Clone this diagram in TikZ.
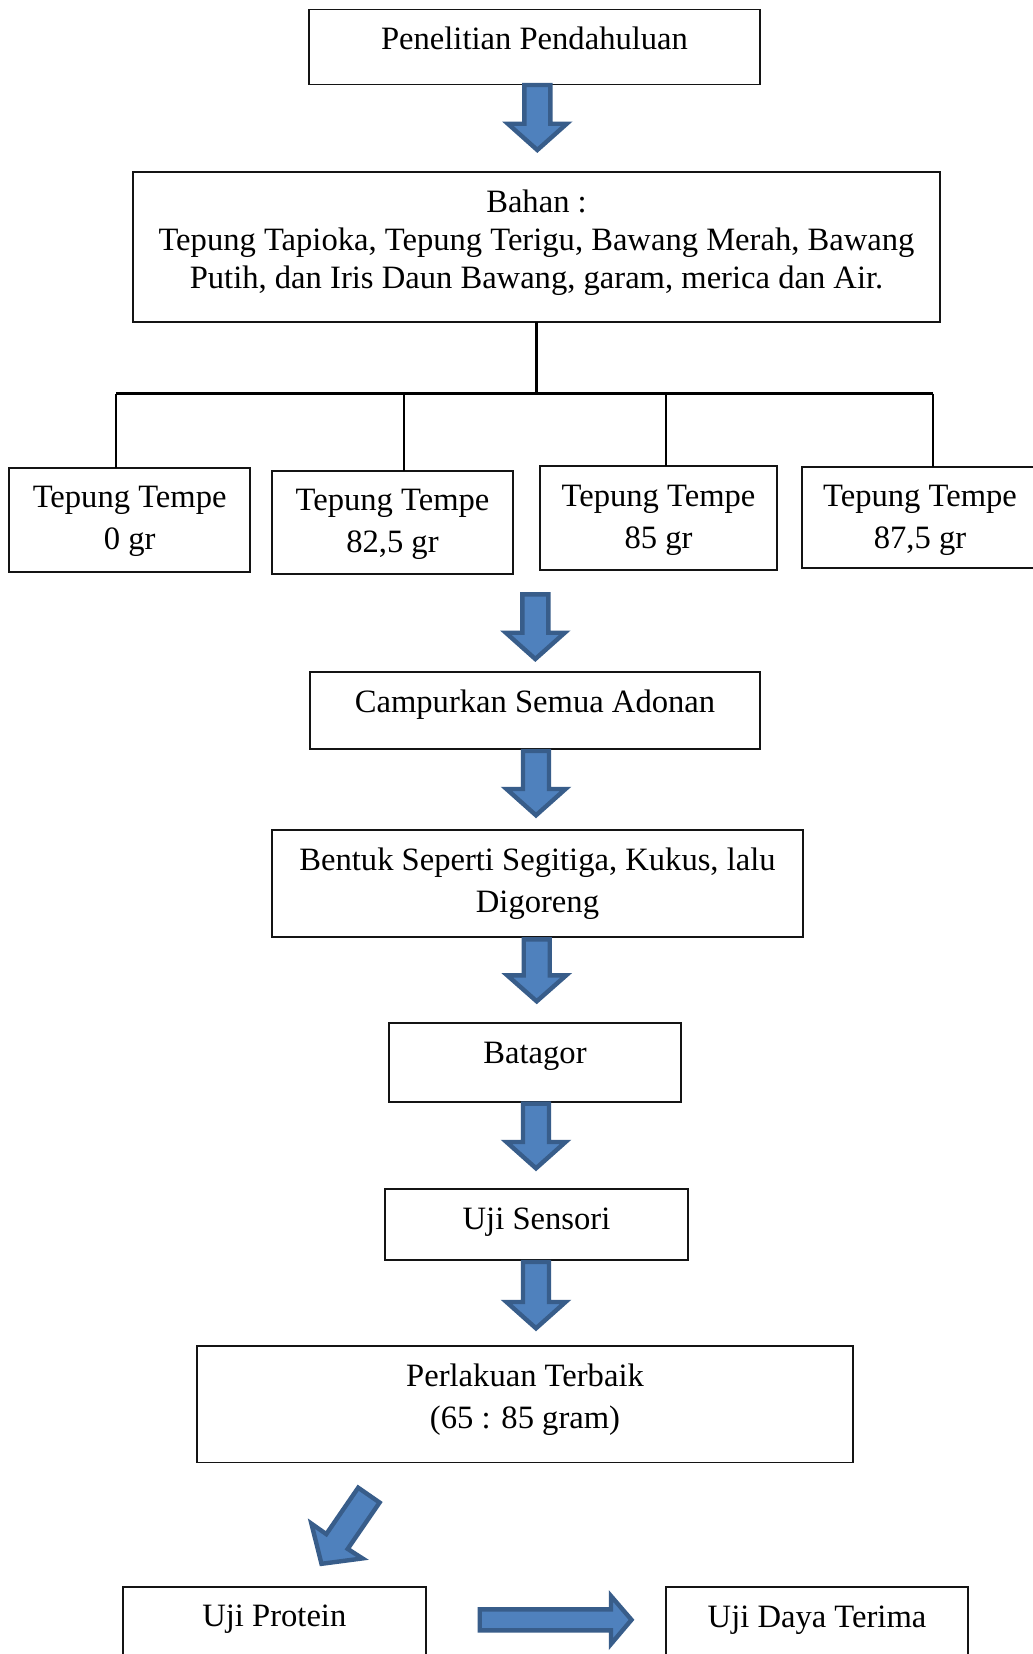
\documentclass[tikz,border=0pt]{standalone}
\usepackage{fontspec}
\setmainfont{Liberation Serif}
\definecolor{arrfill}{RGB}{79,129,189}
\definecolor{arrline}{RGB}{56,93,138}
\definecolor{boxline}{RGB}{20,20,20}
\newcommand\mystrut{\rule{0pt}{12pt}}
\newcommand\mybox[5]{\node[bx, minimum width={(#4-#2)*0.5pt}, minimum height={(#5-#3)*0.5pt}] (#1) at ({(#2+#4)/2},{(#3+#5)/2}) {};}
\newcommand\bkdown[4]{\filldraw[blk] ({#1-13},#2) -- ({#1+13},#2) -- ({#1+13},#3) -- ({#1+29.5},#3) -- (#1,#4) -- ({#1-29.5},#3) -- ({#1-13},#3) -- cycle;}
\tikzset{
  bx/.style={draw=boxline, line width=0.9pt, rectangle, inner sep=0pt, outer sep=0pt},
  tx/.style={anchor=north, inner sep=0pt, outer sep=0pt, align=center, font=\fontsize{16.3}{21}\selectfont},
  ln/.style={draw=black, line width=1.1pt},
  blk/.style={fill=arrfill, draw=arrline, line width=2.2pt, line join=miter}
}
\begin{document}
\begin{tikzpicture}[x=0.5pt, y=-0.5pt]
\useasboundingbox[fill=white] (0,0) rectangle (1033,1654);
% boxes
\mybox{pen}{309}{9.5}{760}{84.4}
\mybox{bahan}{133}{172}{940}{322}
\mybox{tt1}{9.3}{467.7}{250}{572.3}
\mybox{tt2}{272}{470.6}{513}{574}
\mybox{tt3}{540}{466}{777}{570}
\mybox{tt4}{802}{466.7}{1038}{568.3}
\mybox{campur}{310}{672}{760}{749}
\mybox{bentuk}{272}{830}{803}{937}
\mybox{batagor}{389}{1023}{681}{1101.6}
\mybox{sensori}{385}{1189}{688}{1260}
\mybox{perlakuan}{197}{1346}{853}{1462.5}
\mybox{protein}{122.7}{1586.7}{426}{1690}
\mybox{daya}{665.7}{1587.3}{968.3}{1690}
% texts
\node[tx] (penT) at ([yshift=-8pt]pen.north) {\mystrut Penelitian Pendahuluan};
\node[tx, font=\fontsize{16.3}{19}\selectfont] (bahanT) at ([yshift=-8pt]bahan.north) {\mystrut Bahan :\\Tepung Tapioka, Tepung Terigu, Bawang Merah, Bawang\\Putih, dan Iris Daun Bawang, garam, merica dan Air.};
\node[tx] (tt1T) at ([yshift=-8pt]tt1.north) {\mystrut Tepung Tempe\\0 gr};
\node[tx] (tt2T) at ([yshift=-8pt]tt2.north) {\mystrut Tepung Tempe\\82,5 gr};
\node[tx] (tt3T) at ([yshift=-8pt]tt3.north) {\mystrut Tepung Tempe\\85 gr};
\node[tx] (tt4T) at ([yshift=-8pt]tt4.north) {\mystrut Tepung Tempe\\87,5 gr};
\node[tx] (campurT) at ([yshift=-8pt]campur.north) {\mystrut Campurkan Semua Adonan};
\node[tx] (bentukT) at ([yshift=-8pt]bentuk.north) {\mystrut Bentuk Seperti Segitiga, Kukus, lalu\\Digoreng};
\node[tx] (batagorT) at ([yshift=-8pt]batagor.north) {\mystrut Batagor};
\node[tx] (sensoriT) at ([yshift=-8pt]sensori.north) {\mystrut Uji Sensori};
\node[tx] (perlakuanT) at ([yshift=-8pt]perlakuan.north) {\mystrut Perlakuan Terbaik\\(65 : 85 gram)};
\node[tx] (proteinT) at ([yshift=-8pt]protein.north) {\mystrut Uji Protein};
\node[tx] (dayaT) at ([yshift=-8pt]daya.north) {\mystrut Uji Daya Terima};
% tree connectors
\coordinate (j) at (536.5,393.5);
\coordinate (h1) at (116,393.5);
\coordinate (h2) at (404,393.5);
\coordinate (h3) at (666,393.5);
\coordinate (h4) at (933,393.5);
\draw[ln] (bahan.south) -- (j);
\draw[ln] (h1) -- (h4);
\draw[ln] (h1) -- (h1 |- tt1.north);
\draw[ln] (h2) -- (h2 |- tt2.north);
\draw[ln] (h3) -- (h3 |- tt3.north);
\draw[ln] (h4) -- (h4 |- tt4.north);
% block arrows
\bkdown{537.3}{85}{123.7}{150}
\bkdown{535.3}{594.3}{632.7}{659}
\bkdown{536}{751}{789}{815.3}
\bkdown{536.7}{939.3}{975.3}{1001.3}
\bkdown{536}{1103.6}{1142}{1168.3}
\bkdown{536}{1262}{1302}{1328.3}
% diagonal arrow
\filldraw[blk] (358.2,1487.7) -- (379.6,1502.5) -- (347.7,1548.9) -- (362.5,1558.4) -- (321.5,1563.8) -- (311.4,1523.6) -- (326.3,1534.1) -- cycle;
% right arrow
\filldraw[blk] (479.7,1609.3) -- (611,1609.3) -- (611,1596) -- (631.5,1619.8) -- (611,1644) -- (611,1630.3) -- (479.7,1630.3) -- cycle;
\end{tikzpicture}
\end{document}
